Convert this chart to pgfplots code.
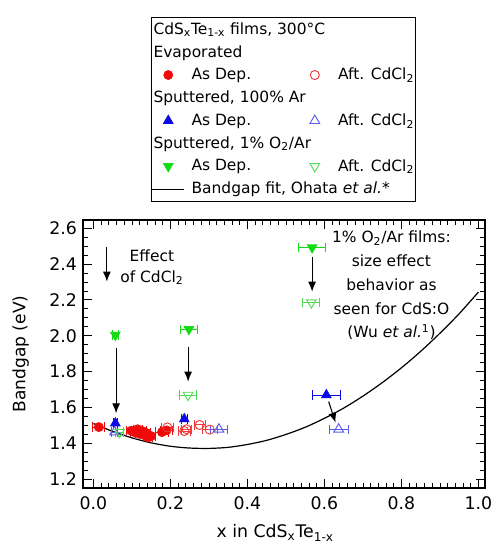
\documentclass[border=0pt]{standalone}
\usepackage{fontspec}
\setmainfont{DejaVu Sans}
\usepackage{pgfplots}
\pgfplotsset{compat=1.18}
\usetikzlibrary{arrows.meta}
\definecolor{myred}{RGB}{240,10,10}
\definecolor{myredL}{RGB}{240,60,60}
\definecolor{myblue}{RGB}{10,10,230}
\definecolor{myblueL}{RGB}{90,90,235}
\definecolor{mygreen}{RGB}{20,220,20}
\definecolor{mygreenL}{RGB}{80,220,80}
\newcommand{\fs}{\fontsize{11.6}{14}\selectfont}
\newcommand{\ft}{\fontsize{13}{15}\selectfont}
\newcommand{\hdr}[1]{\makebox[0pt][l]{\hspace*{-28.5pt}#1}}
\pgfplotsset{
  mylegmark/.style={legend image code/.code={\path (0cm,0cm) (0.84cm,0cm); \draw[mark repeat=2,mark phase=2,##1] plot coordinates {(0cm,0cm)(0.42cm,0cm)(0.84cm,0cm)};}},
  mylegline/.style={legend image code/.code={\draw[##1] (0cm,0cm) -- (0.84cm,0cm);}},
  redF/.style={only marks, mark=*, mark size=3.4pt, color=myred, mark options={fill=myred, line width=0.5pt}},
  redO/.style={only marks, mark=o, mark size=3.4pt, color=myredL, mark options={line width=0.7pt}},
  blueF/.style={only marks, mark=triangle*, mark size=4.2pt, color=myblue, mark options={fill=myblue, line width=0.5pt}},
  blueO/.style={only marks, mark=triangle, mark size=4.2pt, color=myblueL, mark options={line width=0.7pt}},
  greenF/.style={only marks, mark=triangle*, mark size=4.2pt, color=mygreen, mark options={rotate=180, fill=mygreen, line width=0.5pt}},
  greenO/.style={only marks, mark=triangle, mark size=4.2pt, color=mygreenL, mark options={rotate=180, line width=0.7pt}},
  xerr/.style={error bars/.cd, x dir=both, x explicit, error bar style={line width=0.7pt, #1}, error mark options={rotate=90, mark size=3.5pt, line width=0.7pt, #1}},
}
\begin{document}
\begin{tikzpicture}
\begin{axis}[
  scale only axis, width=301.5pt, height=201pt,
  xmin=-0.027, xmax=1.017, ymin=1.15, ymax=2.646,
  xtick={0,0.2,0.4,0.6,0.8,1.0}, ytick={1.2,1.4,1.6,1.8,2.0,2.2,2.4,2.6},
  minor x tick num=9, minor y tick num=3,
  tick align=inside, major tick length=7pt, minor tick length=3.5pt,
  tick style={line width=0.6pt, black},
  axis line style={line width=0.8pt},
  font=\fs,
  /pgf/number format/assume math mode=true,
  xticklabel style={font=\ft, yshift=-3pt, /pgf/number format/.cd, fixed, fixed zerofill, precision=1},
  yticklabel style={font=\ft, xshift=-1pt, /pgf/number format/.cd, fixed, fixed zerofill, precision=1},
  xlabel={x in CdS\textsubscript{x}Te\textsubscript{1-x}},
  ylabel={Bandgap (eV)},
  xlabel style={font=\fontsize{13}{15}\selectfont, at={(axis description cs:0.478,-0.168)}, anchor=center},
  ylabel style={font=\fontsize{12.8}{15}\selectfont, at={(axis description cs:-0.155,0.5)}, anchor=center},
  legend columns=2,
  legend cell align=left,
  legend style={at={(axis description cs:0,1)}, anchor=south west, xshift=51pt, yshift=13.5pt,
    draw=black, line width=1pt, font=\fs, row sep=4.8pt, inner xsep=0pt, inner ysep=3pt,
    nodes={inner sep=1pt},
    /tikz/every odd column/.append style={column sep=4pt}},
]
\coordinate (bl) at (rel axis cs:0,0);
% legend
\addlegendimage{empty legend}\addlegendentry{\hdr{CdS\textsubscript{x}Te\textsubscript{1-x} films, 300°C}}
\addlegendimage{empty legend}\addlegendentry{}
\addlegendimage{empty legend}\addlegendentry{\hdr{Evaporated}}
\addlegendimage{empty legend}\addlegendentry{}
\addlegendimage{redF, mylegmark}\addlegendentry{\makebox[79pt][l]{As Dep.}}
\addlegendimage{redO, mylegmark}\addlegendentry{Aft. CdCl\textsubscript{2}}
\addlegendimage{empty legend}\addlegendentry{\hdr{Sputtered, 100\% Ar}}
\addlegendimage{empty legend}\addlegendentry{}
\addlegendimage{blueF, mylegmark}\addlegendentry{\makebox[79pt][l]{As Dep.}}
\addlegendimage{blueO, mylegmark}\addlegendentry{Aft. CdCl\textsubscript{2}}
\addlegendimage{empty legend}\addlegendentry{\hdr{Sputtered, 1\% O\textsubscript{2}/Ar}}
\addlegendimage{empty legend}\addlegendentry{}
\addlegendimage{greenF, mylegmark}\addlegendentry{\makebox[79pt][l]{As Dep.}}
\addlegendimage{greenO, mylegmark}\addlegendentry{Aft. CdCl\textsubscript{2}}
\addlegendimage{black, line width=0.9pt, mylegline}\addlegendentry{\makebox[0pt][l]{Bandgap fit, Ohata \textit{et al.}*}}
\addlegendimage{empty legend}\addlegendentry{}

% Bandgap fit curve
\addplot[black, line width=0.9pt, smooth, forget plot] coordinates {
(0.00,1.510) (0.05,1.466) (0.10,1.430) (0.15,1.402) (0.20,1.383) (0.25,1.373)
(0.30,1.371) (0.35,1.377) (0.40,1.393) (0.45,1.416) (0.50,1.449) (0.55,1.489)
(0.60,1.539) (0.65,1.596) (0.70,1.663) (0.75,1.738) (0.80,1.821) (0.85,1.913)
(0.90,2.014) (0.95,2.123) (1.00,2.244)};

% Evaporated, as deposited
\addplot[redF, forget plot, xerr=myred] table[x=x, y=y, x error=ex] {
x y ex
0.014 1.490 0.016
0.098 1.470 0.012
0.108 1.460 0.012
0.115 1.478 0.012
0.120 1.452 0.012
0.127 1.468 0.012
0.132 1.445 0.012
0.137 1.458 0.012
0.142 1.432 0.012
0.150 1.440 0.012
0.178 1.462 0.016
0.190 1.472 0.016
};
% Evaporated, after CdCl2
\addplot[redO, forget plot, xerr=myredL] table[x=x, y=y, x error=ex] {
x y ex
0.192 1.488 0.016
0.236 1.468 0.016
0.242 1.478 0.012
0.276 1.502 0.014
0.302 1.476 0.020
};
% Sputtered 100% Ar
\addplot[blueO, forget plot, xerr=myblueL] table[x=x, y=y, x error=ex] {
x y ex
0.055 1.462 0.008
0.326 1.478 0.023
0.637 1.478 0.025
};
\addplot[blueF, forget plot, xerr=myblue] table[x=x, y=y, x error=ex] {
x y ex
0.057 1.512 0.006
0.236 1.535 0.008
0.605 1.669 0.037
};
% Sputtered 1% O2/Ar
\addplot[greenO, forget plot, xerr=mygreenL] table[x=x, y=y, x error=ex] {
x y ex
0.068 1.462 0.010
0.246 1.669 0.022
0.566 2.185 0.022
};
\addplot[greenF, forget plot, xerr=mygreen] table[x=x, y=y, x error=ex] {
x y ex
0.057 2.004 0.008
0.248 2.036 0.022
0.568 2.492 0.035
};

% arrows and annotations
\draw[-{Latex[length=7.5pt,width=6pt]}, line width=0.8pt] (axis cs:0.035,2.498) -- (axis cs:0.035,2.302);
\draw[-{Latex[length=7.5pt,width=6pt]}, line width=0.8pt] (axis cs:0.059,1.930) -- (axis cs:0.059,1.567);
\draw[-{Latex[length=7.5pt,width=6pt]}, line width=0.8pt] (axis cs:0.246,1.939) -- (axis cs:0.246,1.744);
\draw[-{Latex[length=7.5pt,width=6pt]}, line width=0.8pt] (axis cs:0.568,2.442) -- (axis cs:0.568,2.246);
\draw[-{Latex[length=7.5pt,width=6pt]}, line width=0.8pt] (axis cs:0.611,1.632) -- (axis cs:0.629,1.515);
\node[align=center, font=\fontsize{11.6}{15.75}\selectfont] at (axis cs:0.152,2.384) {Effect\\of CdCl\textsubscript{2}};
\node[align=center, font=\fontsize{11.6}{17.8}\selectfont] at (axis cs:0.774,2.28) {1\% O\textsubscript{2}/Ar films:\\size effect\\behavior as\\seen for CdS:O\\(Wu \textit{et al.}\textsuperscript{1})};
\end{axis}
\path (bl) ++(-62.25pt,-43.5pt) rectangle ++(370.5pt,409.5pt);
\end{tikzpicture}
\end{document}
